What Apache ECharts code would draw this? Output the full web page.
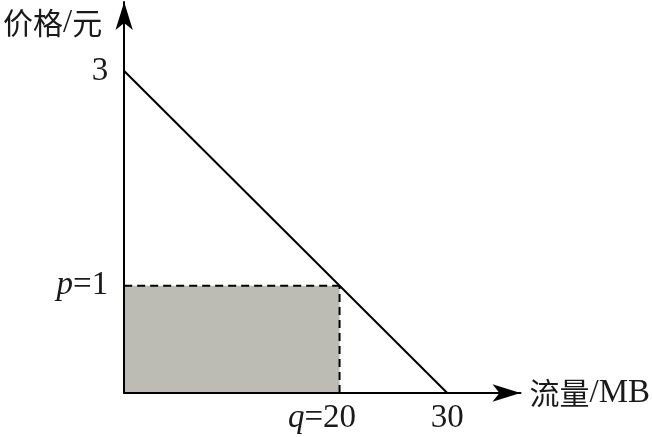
<!DOCTYPE html>
<html><head><meta charset="utf-8">
<script src="https://cdn.jsdelivr.net/npm/echarts@6/dist/echarts.min.js"></script>
<style>html,body{margin:0;padding:0;background:#fff}#c{width:653px;height:437px}</style>
</head><body><div id="c"></div>
<script>
// Data
const demandQ = [0, 30];
const demandP = [3, 0];
const priceP = 1;
const quantityQ = 20;
const xTickValues = [20, 30];
const yTickValues = [1, 3];
const xNameCJK = '流量';
const xNameUnit = '/MB';
const yNameCJK = '价格';
const yNameUnit = '/元';

const LATIN = '"Liberation Serif", serif';
const CJK = '"Noto Sans CJK SC", sans-serif';
const INK = '#1a1a1a';
const FS = 33;
const CFS = 30;

const chart = echarts.init(document.getElementById('c'), null, {renderer: 'canvas'});
chart.setOption({
  animation: false,
  backgroundColor: '#fff',
  grid: {left: 122, right: 126, top: 2, bottom: 44},
  xAxis: {
    type: 'value', min: 0, max: 36.8, z: 5,
    name: '{c|' + xNameCJK + '}{l|' + xNameUnit + '}', nameLocation: 'end', nameGap: 9,
    nameTextStyle: {
      align: 'left', verticalAlign: 'middle', color: INK,
      rich: {
        c: {fontFamily: CJK, fontSize: CFS, color: INK},
        l: {fontFamily: LATIN, fontSize: FS, color: INK}
      }
    },
    axisLine: {show: true, symbol: ['none', 'arrow'], symbolSize: [13, 28], lineStyle: {color: '#000', width: 2}},
    axisTick: {show: false},
    splitLine: {show: false},
    axisLabel: {
      customValues: xTickValues, margin: 9,
      fontFamily: LATIN, fontSize: FS, color: INK,
      formatter: function (v) {
        if (v === quantityQ) return '{i|q}{r|=' + v + '}';
        return String(v);
      },
      rich: {
        i: {fontFamily: LATIN, fontSize: FS, fontStyle: 'italic', color: INK},
        r: {fontFamily: LATIN, fontSize: FS, color: INK, padding: [0, 35, 0, 0]}
      }
    }
  },
  yAxis: {
    type: 'value', min: 0, max: 3.643, z: 5,
    name: '{c|' + yNameCJK + '}{l|/}{c|' + yNameUnit.slice(1) + '}', nameLocation: 'end', nameGap: -21,
    nameTextStyle: {
      align: 'right', verticalAlign: 'middle', color: INK, padding: [0, 22, 0, 0],
      rich: {
        c: {fontFamily: CJK, fontSize: CFS, color: INK},
        l: {fontFamily: LATIN, fontSize: FS, color: INK}
      }
    },
    axisLine: {show: true, symbol: ['none', 'arrow'], symbolSize: [13, 28], lineStyle: {color: '#000', width: 2}},
    axisTick: {show: false},
    splitLine: {show: false},
    axisLabel: {
      customValues: yTickValues, margin: 16,
      fontFamily: LATIN, fontSize: FS, color: INK,
      formatter: function (v) {
        if (v === priceP) return '{i|p}{r|=' + v + '}';
        return String(v);
      },
      rich: {
        i: {fontFamily: LATIN, fontSize: FS, fontStyle: 'italic', color: INK},
        r: {fontFamily: LATIN, fontSize: FS, color: INK}
      }
    }
  },
  series: [
    {
      type: 'line', symbol: 'none', z: 2,
      data: [[0, priceP], [quantityQ, priceP]],
      lineStyle: {color: '#000', width: 2, type: [8, 5]},
      areaStyle: {color: '#bcbcb4', opacity: 1}
    },
    {
      type: 'line', symbol: 'none', z: 3,
      data: [[quantityQ, 0], [quantityQ, priceP]],
      lineStyle: {color: '#000', width: 2, type: [8, 5]}
    },
    {
      type: 'line', symbol: 'none', z: 4,
      data: demandQ.map((q, i) => [q, demandP[i]]),
      lineStyle: {color: '#000', width: 2}
    }
  ]
});
</script></body></html>
